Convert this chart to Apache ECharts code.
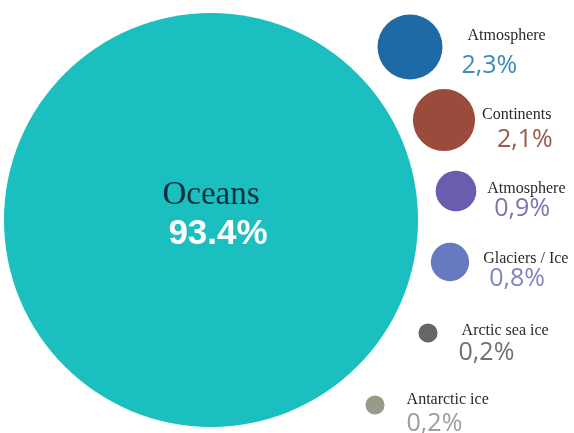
<!DOCTYPE html>
<html>
<head>
<meta charset="utf-8">
<script src="https://cdn.jsdelivr.net/npm/echarts@6/dist/echarts.min.js"></script>
<style>
  html, body { margin: 0; padding: 0; background: #fff; }
  #chart { width: 574px; height: 433px; }
</style>
</head>
<body>
<div id="chart"></div>
<script>
// data
const names = ['Oceans', 'Atmosphere', 'Continents', 'Atmosphere', 'Glaciers / Ice', 'Arctic sea ice', 'Antarctic ice'];
const values = [93.4, 2.3, 2.1, 0.9, 0.8, 0.2, 0.2];
// bubble centres, in the chart's own pixel-like coordinates
const xPos = [211, 410, 444, 456, 450, 428, 375];
const yPos = [220, 47, 120, 191, 262, 333, 405];

const fills = ['#1cbfbf', '#1d6aa6', '#9a4b3c', '#6b5cb0', '#6679c1', '#666666', '#9a9a88'];
const textColors = ['#ffffff', '#3a8cbb', '#9a5a4b', '#7a74b2', '#7d84c2', '#707070', '#9c9c9c'];

// label layout tweaks per bubble
const labelDist = [0, 19, 7, 11, 14, 21, 22];
const nameIndent = [0, 6, 0, 0, 0, 3, 0];
const valIndent = [0, 0, 15, 7, 6, 0, 0];
const valGap = [0, 20, 9, 0, 0, 4, 7];
const labelDy = [-6, 2, 8, 11, 10, 11, 8];

// bubble diameter grows with sqrt of share
const k = 414 / Math.sqrt(93.4);

const fmt = (v, i) => i === 0 ? v.toFixed(1) + '%' : v.toFixed(1).replace('.', ',') + '%';

const points = values.map((v, i) => ({
  value: [xPos[i], yPos[i]],
  symbolSize: k * Math.sqrt(v),
  itemStyle: { color: fills[i], opacity: 1 },
  label: {
    show: true,
    position: i === 0 ? 'inside' : 'right',
    distance: labelDist[i],
    offset: [0, labelDy[i]],
    align: i === 0 ? 'center' : 'left',
    formatter: '{n|' + names[i] + '}\n{v|' + fmt(v, i) + '}',
    rich: {
      n: {
        fontFamily: 'Liberation Serif',
        fontSize: i === 0 ? 33 : 16,
        color: i === 0 ? '#0a2f3c' : '#2a2a2a',
        lineHeight: i === 0 ? 40 : 14,
        padding: [0, 0, 0, nameIndent[i]]
      },
      v: {
        fontFamily: i === 0 ? 'Liberation Sans' : 'Open Sans',
        fontSize: i === 0 ? 35 : 25,
        fontWeight: i === 0 ? 'bold' : 'normal',
        color: textColors[i],
        lineHeight: i === 0 ? 38 : 26,
        padding: i === 0 ? [0, 0, 0, 14] : [valGap[i], 0, 0, valIndent[i]]
      }
    }
  }
}));

const chart = echarts.init(document.getElementById('chart'));
chart.setOption({
  backgroundColor: '#ffffff',
  animation: false,
  grid: { left: 0, right: 0, top: 0, bottom: 0 },
  xAxis: { type: 'value', min: 0, max: 574, show: false },
  yAxis: { type: 'value', min: 0, max: 433, inverse: true, show: false },
  series: [{
    type: 'scatter',
    symbol: 'circle',
    data: points
  }]
});
</script>
</body>
</html>
